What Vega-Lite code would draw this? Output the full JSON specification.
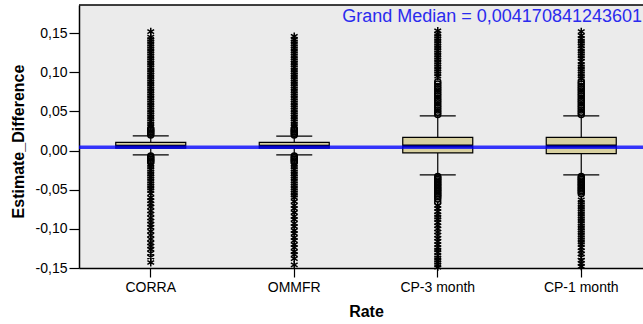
{
  "$schema": "https://vega.github.io/schema/vega-lite/v6.json",
  "autosize": {"type": "none"},
  "padding": {"left": 79, "top": 5, "right": 0, "bottom": 56},
  "width": 564,
  "height": 263,
  "background": "white",
  "config": {
    "view": {"fill": "#ebebeb", "stroke": null},
    "font": "Liberation Sans",
    "axis": {"grid": false, "domainColor": "black", "tickColor": "black", "labelColor": "black", "titleColor": "black", "labelFont": "Liberation Sans", "titleFont": "Liberation Sans", "labelFontSize": 14, "titleFontSize": 16, "titleFontWeight": "bold", "domainWidth": 1.5, "tickWidth": 1.2}
  },
  "datasets": {
    "boxes": [
      {"Rate": "CORRA", "lo": -0.0055, "q1": 0.003, "median": 0.0055, "q3": 0.0105, "hi": 0.0188},
      {"Rate": "OMMFR", "lo": -0.0055, "q1": 0.003, "median": 0.0055, "q3": 0.0105, "hi": 0.0185},
      {"Rate": "CP-3 month", "lo": -0.031, "q1": -0.003, "median": 0.006, "q3": 0.017, "hi": 0.0443},
      {"Rate": "CP-1 month", "lo": -0.031, "q1": -0.004, "median": 0.006, "q3": 0.017, "hi": 0.0443}
    ],
    "annot": [
      {"grand_median": 0.00417, "label": "Grand Median = 0,004170841243601", "top": 0.186, "Rate": "CP-1 month"}
    ],
    "points": [
      {"Rate": "CORRA", "Estimate_Difference": 0.020, "type": "outlier"},
      {"Rate": "CORRA", "Estimate_Difference": 0.022, "type": "outlier"},
      {"Rate": "CORRA", "Estimate_Difference": 0.024, "type": "outlier"},
      {"Rate": "CORRA", "Estimate_Difference": 0.026, "type": "outlier"},
      {"Rate": "CORRA", "Estimate_Difference": 0.028, "type": "outlier"},
      {"Rate": "CORRA", "Estimate_Difference": 0.031, "type": "extreme"},
      {"Rate": "CORRA", "Estimate_Difference": 0.034, "type": "extreme"},
      {"Rate": "CORRA", "Estimate_Difference": 0.037, "type": "extreme"},
      {"Rate": "CORRA", "Estimate_Difference": 0.040, "type": "extreme"},
      {"Rate": "CORRA", "Estimate_Difference": 0.043, "type": "extreme"},
      {"Rate": "CORRA", "Estimate_Difference": 0.046, "type": "extreme"},
      {"Rate": "CORRA", "Estimate_Difference": 0.049, "type": "extreme"},
      {"Rate": "CORRA", "Estimate_Difference": 0.052, "type": "extreme"},
      {"Rate": "CORRA", "Estimate_Difference": 0.055, "type": "extreme"},
      {"Rate": "CORRA", "Estimate_Difference": 0.058, "type": "extreme"},
      {"Rate": "CORRA", "Estimate_Difference": 0.061, "type": "extreme"},
      {"Rate": "CORRA", "Estimate_Difference": 0.064, "type": "extreme"},
      {"Rate": "CORRA", "Estimate_Difference": 0.067, "type": "extreme"},
      {"Rate": "CORRA", "Estimate_Difference": 0.070, "type": "extreme"},
      {"Rate": "CORRA", "Estimate_Difference": 0.073, "type": "extreme"},
      {"Rate": "CORRA", "Estimate_Difference": 0.076, "type": "extreme"},
      {"Rate": "CORRA", "Estimate_Difference": 0.079, "type": "extreme"},
      {"Rate": "CORRA", "Estimate_Difference": 0.082, "type": "extreme"},
      {"Rate": "CORRA", "Estimate_Difference": 0.085, "type": "extreme"},
      {"Rate": "CORRA", "Estimate_Difference": 0.088, "type": "extreme"},
      {"Rate": "CORRA", "Estimate_Difference": 0.091, "type": "extreme"},
      {"Rate": "CORRA", "Estimate_Difference": 0.094, "type": "extreme"},
      {"Rate": "CORRA", "Estimate_Difference": 0.097, "type": "extreme"},
      {"Rate": "CORRA", "Estimate_Difference": 0.100, "type": "extreme"},
      {"Rate": "CORRA", "Estimate_Difference": 0.103, "type": "extreme"},
      {"Rate": "CORRA", "Estimate_Difference": 0.106, "type": "extreme"},
      {"Rate": "CORRA", "Estimate_Difference": 0.109, "type": "extreme"},
      {"Rate": "CORRA", "Estimate_Difference": 0.112, "type": "extreme"},
      {"Rate": "CORRA", "Estimate_Difference": 0.115, "type": "extreme"},
      {"Rate": "CORRA", "Estimate_Difference": 0.118, "type": "extreme"},
      {"Rate": "CORRA", "Estimate_Difference": 0.121, "type": "extreme"},
      {"Rate": "CORRA", "Estimate_Difference": 0.124, "type": "extreme"},
      {"Rate": "CORRA", "Estimate_Difference": 0.127, "type": "extreme"},
      {"Rate": "CORRA", "Estimate_Difference": 0.130, "type": "extreme"},
      {"Rate": "CORRA", "Estimate_Difference": 0.133, "type": "extreme"},
      {"Rate": "CORRA", "Estimate_Difference": 0.136, "type": "extreme"},
      {"Rate": "CORRA", "Estimate_Difference": 0.139, "type": "extreme"},
      {"Rate": "CORRA", "Estimate_Difference": 0.142, "type": "extreme"},
      {"Rate": "CORRA", "Estimate_Difference": 0.145, "type": "extreme"},
      {"Rate": "CORRA", "Estimate_Difference": 0.152, "type": "extreme"},
      {"Rate": "CORRA", "Estimate_Difference": -0.007, "type": "outlier"},
      {"Rate": "CORRA", "Estimate_Difference": -0.009, "type": "outlier"},
      {"Rate": "CORRA", "Estimate_Difference": -0.011, "type": "outlier"},
      {"Rate": "CORRA", "Estimate_Difference": -0.013, "type": "outlier"},
      {"Rate": "CORRA", "Estimate_Difference": -0.015, "type": "outlier"},
      {"Rate": "CORRA", "Estimate_Difference": -0.018, "type": "extreme"},
      {"Rate": "CORRA", "Estimate_Difference": -0.021, "type": "extreme"},
      {"Rate": "CORRA", "Estimate_Difference": -0.024, "type": "extreme"},
      {"Rate": "CORRA", "Estimate_Difference": -0.027, "type": "extreme"},
      {"Rate": "CORRA", "Estimate_Difference": -0.030, "type": "extreme"},
      {"Rate": "CORRA", "Estimate_Difference": -0.033, "type": "extreme"},
      {"Rate": "CORRA", "Estimate_Difference": -0.036, "type": "extreme"},
      {"Rate": "CORRA", "Estimate_Difference": -0.039, "type": "extreme"},
      {"Rate": "CORRA", "Estimate_Difference": -0.042, "type": "extreme"},
      {"Rate": "CORRA", "Estimate_Difference": -0.045, "type": "extreme"},
      {"Rate": "CORRA", "Estimate_Difference": -0.048, "type": "extreme"},
      {"Rate": "CORRA", "Estimate_Difference": -0.051, "type": "extreme"},
      {"Rate": "CORRA", "Estimate_Difference": -0.055, "type": "extreme"},
      {"Rate": "CORRA", "Estimate_Difference": -0.060, "type": "extreme"},
      {"Rate": "CORRA", "Estimate_Difference": -0.064, "type": "extreme"},
      {"Rate": "CORRA", "Estimate_Difference": -0.068, "type": "extreme"},
      {"Rate": "CORRA", "Estimate_Difference": -0.072, "type": "extreme"},
      {"Rate": "CORRA", "Estimate_Difference": -0.077, "type": "extreme"},
      {"Rate": "CORRA", "Estimate_Difference": -0.081, "type": "extreme"},
      {"Rate": "CORRA", "Estimate_Difference": -0.086, "type": "extreme"},
      {"Rate": "CORRA", "Estimate_Difference": -0.090, "type": "extreme"},
      {"Rate": "CORRA", "Estimate_Difference": -0.094, "type": "extreme"},
      {"Rate": "CORRA", "Estimate_Difference": -0.098, "type": "extreme"},
      {"Rate": "CORRA", "Estimate_Difference": -0.103, "type": "extreme"},
      {"Rate": "CORRA", "Estimate_Difference": -0.108, "type": "extreme"},
      {"Rate": "CORRA", "Estimate_Difference": -0.113, "type": "extreme"},
      {"Rate": "CORRA", "Estimate_Difference": -0.118, "type": "extreme"},
      {"Rate": "CORRA", "Estimate_Difference": -0.122, "type": "extreme"},
      {"Rate": "CORRA", "Estimate_Difference": -0.126, "type": "extreme"},
      {"Rate": "CORRA", "Estimate_Difference": -0.131, "type": "extreme"},
      {"Rate": "CORRA", "Estimate_Difference": -0.136, "type": "extreme"},
      {"Rate": "CORRA", "Estimate_Difference": -0.143, "type": "extreme"},
      {"Rate": "OMMFR", "Estimate_Difference": 0.020, "type": "outlier"},
      {"Rate": "OMMFR", "Estimate_Difference": 0.022, "type": "outlier"},
      {"Rate": "OMMFR", "Estimate_Difference": 0.024, "type": "outlier"},
      {"Rate": "OMMFR", "Estimate_Difference": 0.026, "type": "outlier"},
      {"Rate": "OMMFR", "Estimate_Difference": 0.028, "type": "outlier"},
      {"Rate": "OMMFR", "Estimate_Difference": 0.031, "type": "extreme"},
      {"Rate": "OMMFR", "Estimate_Difference": 0.034, "type": "extreme"},
      {"Rate": "OMMFR", "Estimate_Difference": 0.037, "type": "extreme"},
      {"Rate": "OMMFR", "Estimate_Difference": 0.040, "type": "extreme"},
      {"Rate": "OMMFR", "Estimate_Difference": 0.043, "type": "extreme"},
      {"Rate": "OMMFR", "Estimate_Difference": 0.046, "type": "extreme"},
      {"Rate": "OMMFR", "Estimate_Difference": 0.049, "type": "extreme"},
      {"Rate": "OMMFR", "Estimate_Difference": 0.052, "type": "extreme"},
      {"Rate": "OMMFR", "Estimate_Difference": 0.055, "type": "extreme"},
      {"Rate": "OMMFR", "Estimate_Difference": 0.058, "type": "extreme"},
      {"Rate": "OMMFR", "Estimate_Difference": 0.061, "type": "extreme"},
      {"Rate": "OMMFR", "Estimate_Difference": 0.064, "type": "extreme"},
      {"Rate": "OMMFR", "Estimate_Difference": 0.067, "type": "extreme"},
      {"Rate": "OMMFR", "Estimate_Difference": 0.070, "type": "extreme"},
      {"Rate": "OMMFR", "Estimate_Difference": 0.073, "type": "extreme"},
      {"Rate": "OMMFR", "Estimate_Difference": 0.076, "type": "extreme"},
      {"Rate": "OMMFR", "Estimate_Difference": 0.079, "type": "extreme"},
      {"Rate": "OMMFR", "Estimate_Difference": 0.082, "type": "extreme"},
      {"Rate": "OMMFR", "Estimate_Difference": 0.085, "type": "extreme"},
      {"Rate": "OMMFR", "Estimate_Difference": 0.088, "type": "extreme"},
      {"Rate": "OMMFR", "Estimate_Difference": 0.091, "type": "extreme"},
      {"Rate": "OMMFR", "Estimate_Difference": 0.094, "type": "extreme"},
      {"Rate": "OMMFR", "Estimate_Difference": 0.097, "type": "extreme"},
      {"Rate": "OMMFR", "Estimate_Difference": 0.100, "type": "extreme"},
      {"Rate": "OMMFR", "Estimate_Difference": 0.103, "type": "extreme"},
      {"Rate": "OMMFR", "Estimate_Difference": 0.106, "type": "extreme"},
      {"Rate": "OMMFR", "Estimate_Difference": 0.109, "type": "extreme"},
      {"Rate": "OMMFR", "Estimate_Difference": 0.112, "type": "extreme"},
      {"Rate": "OMMFR", "Estimate_Difference": 0.115, "type": "extreme"},
      {"Rate": "OMMFR", "Estimate_Difference": 0.118, "type": "extreme"},
      {"Rate": "OMMFR", "Estimate_Difference": 0.121, "type": "extreme"},
      {"Rate": "OMMFR", "Estimate_Difference": 0.124, "type": "extreme"},
      {"Rate": "OMMFR", "Estimate_Difference": 0.127, "type": "extreme"},
      {"Rate": "OMMFR", "Estimate_Difference": 0.130, "type": "extreme"},
      {"Rate": "OMMFR", "Estimate_Difference": 0.133, "type": "extreme"},
      {"Rate": "OMMFR", "Estimate_Difference": 0.136, "type": "extreme"},
      {"Rate": "OMMFR", "Estimate_Difference": 0.139, "type": "extreme"},
      {"Rate": "OMMFR", "Estimate_Difference": 0.142, "type": "extreme"},
      {"Rate": "OMMFR", "Estimate_Difference": 0.146, "type": "extreme"},
      {"Rate": "OMMFR", "Estimate_Difference": -0.007, "type": "outlier"},
      {"Rate": "OMMFR", "Estimate_Difference": -0.009, "type": "outlier"},
      {"Rate": "OMMFR", "Estimate_Difference": -0.011, "type": "outlier"},
      {"Rate": "OMMFR", "Estimate_Difference": -0.013, "type": "outlier"},
      {"Rate": "OMMFR", "Estimate_Difference": -0.015, "type": "outlier"},
      {"Rate": "OMMFR", "Estimate_Difference": -0.018, "type": "extreme"},
      {"Rate": "OMMFR", "Estimate_Difference": -0.021, "type": "extreme"},
      {"Rate": "OMMFR", "Estimate_Difference": -0.024, "type": "extreme"},
      {"Rate": "OMMFR", "Estimate_Difference": -0.027, "type": "extreme"},
      {"Rate": "OMMFR", "Estimate_Difference": -0.030, "type": "extreme"},
      {"Rate": "OMMFR", "Estimate_Difference": -0.033, "type": "extreme"},
      {"Rate": "OMMFR", "Estimate_Difference": -0.036, "type": "extreme"},
      {"Rate": "OMMFR", "Estimate_Difference": -0.039, "type": "extreme"},
      {"Rate": "OMMFR", "Estimate_Difference": -0.042, "type": "extreme"},
      {"Rate": "OMMFR", "Estimate_Difference": -0.045, "type": "extreme"},
      {"Rate": "OMMFR", "Estimate_Difference": -0.048, "type": "extreme"},
      {"Rate": "OMMFR", "Estimate_Difference": -0.051, "type": "extreme"},
      {"Rate": "OMMFR", "Estimate_Difference": -0.054, "type": "extreme"},
      {"Rate": "OMMFR", "Estimate_Difference": -0.057, "type": "extreme"},
      {"Rate": "OMMFR", "Estimate_Difference": -0.060, "type": "extreme"},
      {"Rate": "OMMFR", "Estimate_Difference": -0.065, "type": "extreme"},
      {"Rate": "OMMFR", "Estimate_Difference": -0.070, "type": "extreme"},
      {"Rate": "OMMFR", "Estimate_Difference": -0.074, "type": "extreme"},
      {"Rate": "OMMFR", "Estimate_Difference": -0.079, "type": "extreme"},
      {"Rate": "OMMFR", "Estimate_Difference": -0.084, "type": "extreme"},
      {"Rate": "OMMFR", "Estimate_Difference": -0.088, "type": "extreme"},
      {"Rate": "OMMFR", "Estimate_Difference": -0.093, "type": "extreme"},
      {"Rate": "OMMFR", "Estimate_Difference": -0.097, "type": "extreme"},
      {"Rate": "OMMFR", "Estimate_Difference": -0.102, "type": "extreme"},
      {"Rate": "OMMFR", "Estimate_Difference": -0.106, "type": "extreme"},
      {"Rate": "OMMFR", "Estimate_Difference": -0.111, "type": "extreme"},
      {"Rate": "OMMFR", "Estimate_Difference": -0.115, "type": "extreme"},
      {"Rate": "OMMFR", "Estimate_Difference": -0.120, "type": "extreme"},
      {"Rate": "OMMFR", "Estimate_Difference": -0.124, "type": "extreme"},
      {"Rate": "OMMFR", "Estimate_Difference": -0.129, "type": "extreme"},
      {"Rate": "OMMFR", "Estimate_Difference": -0.133, "type": "extreme"},
      {"Rate": "OMMFR", "Estimate_Difference": -0.138, "type": "extreme"},
      {"Rate": "OMMFR", "Estimate_Difference": -0.146, "type": "extreme"},
      {"Rate": "CP-3 month", "Estimate_Difference": 0.046, "type": "outlier"},
      {"Rate": "CP-3 month", "Estimate_Difference": 0.049, "type": "outlier"},
      {"Rate": "CP-3 month", "Estimate_Difference": 0.052, "type": "outlier"},
      {"Rate": "CP-3 month", "Estimate_Difference": 0.055, "type": "outlier"},
      {"Rate": "CP-3 month", "Estimate_Difference": 0.058, "type": "outlier"},
      {"Rate": "CP-3 month", "Estimate_Difference": 0.061, "type": "outlier"},
      {"Rate": "CP-3 month", "Estimate_Difference": 0.064, "type": "outlier"},
      {"Rate": "CP-3 month", "Estimate_Difference": 0.067, "type": "outlier"},
      {"Rate": "CP-3 month", "Estimate_Difference": 0.070, "type": "outlier"},
      {"Rate": "CP-3 month", "Estimate_Difference": 0.073, "type": "outlier"},
      {"Rate": "CP-3 month", "Estimate_Difference": 0.076, "type": "outlier"},
      {"Rate": "CP-3 month", "Estimate_Difference": 0.079, "type": "outlier"},
      {"Rate": "CP-3 month", "Estimate_Difference": 0.082, "type": "outlier"},
      {"Rate": "CP-3 month", "Estimate_Difference": 0.085, "type": "outlier"},
      {"Rate": "CP-3 month", "Estimate_Difference": 0.088, "type": "outlier"},
      {"Rate": "CP-3 month", "Estimate_Difference": 0.095, "type": "extreme"},
      {"Rate": "CP-3 month", "Estimate_Difference": 0.098, "type": "extreme"},
      {"Rate": "CP-3 month", "Estimate_Difference": 0.101, "type": "extreme"},
      {"Rate": "CP-3 month", "Estimate_Difference": 0.104, "type": "extreme"},
      {"Rate": "CP-3 month", "Estimate_Difference": 0.107, "type": "extreme"},
      {"Rate": "CP-3 month", "Estimate_Difference": 0.110, "type": "extreme"},
      {"Rate": "CP-3 month", "Estimate_Difference": 0.113, "type": "extreme"},
      {"Rate": "CP-3 month", "Estimate_Difference": 0.116, "type": "extreme"},
      {"Rate": "CP-3 month", "Estimate_Difference": 0.119, "type": "extreme"},
      {"Rate": "CP-3 month", "Estimate_Difference": 0.122, "type": "extreme"},
      {"Rate": "CP-3 month", "Estimate_Difference": 0.125, "type": "extreme"},
      {"Rate": "CP-3 month", "Estimate_Difference": 0.128, "type": "extreme"},
      {"Rate": "CP-3 month", "Estimate_Difference": 0.131, "type": "extreme"},
      {"Rate": "CP-3 month", "Estimate_Difference": 0.134, "type": "extreme"},
      {"Rate": "CP-3 month", "Estimate_Difference": 0.137, "type": "extreme"},
      {"Rate": "CP-3 month", "Estimate_Difference": 0.140, "type": "extreme"},
      {"Rate": "CP-3 month", "Estimate_Difference": 0.143, "type": "extreme"},
      {"Rate": "CP-3 month", "Estimate_Difference": 0.146, "type": "extreme"},
      {"Rate": "CP-3 month", "Estimate_Difference": 0.149, "type": "extreme"},
      {"Rate": "CP-3 month", "Estimate_Difference": 0.153, "type": "extreme"},
      {"Rate": "CP-3 month", "Estimate_Difference": -0.033, "type": "outlier"},
      {"Rate": "CP-3 month", "Estimate_Difference": -0.035, "type": "outlier"},
      {"Rate": "CP-3 month", "Estimate_Difference": -0.037, "type": "outlier"},
      {"Rate": "CP-3 month", "Estimate_Difference": -0.039, "type": "outlier"},
      {"Rate": "CP-3 month", "Estimate_Difference": -0.041, "type": "outlier"},
      {"Rate": "CP-3 month", "Estimate_Difference": -0.043, "type": "outlier"},
      {"Rate": "CP-3 month", "Estimate_Difference": -0.045, "type": "outlier"},
      {"Rate": "CP-3 month", "Estimate_Difference": -0.047, "type": "outlier"},
      {"Rate": "CP-3 month", "Estimate_Difference": -0.049, "type": "outlier"},
      {"Rate": "CP-3 month", "Estimate_Difference": -0.051, "type": "outlier"},
      {"Rate": "CP-3 month", "Estimate_Difference": -0.053, "type": "outlier"},
      {"Rate": "CP-3 month", "Estimate_Difference": -0.055, "type": "outlier"},
      {"Rate": "CP-3 month", "Estimate_Difference": -0.057, "type": "outlier"},
      {"Rate": "CP-3 month", "Estimate_Difference": -0.059, "type": "outlier"},
      {"Rate": "CP-3 month", "Estimate_Difference": -0.062, "type": "outlier"},
      {"Rate": "CP-3 month", "Estimate_Difference": -0.066, "type": "outlier"},
      {"Rate": "CP-3 month", "Estimate_Difference": -0.070, "type": "extreme"},
      {"Rate": "CP-3 month", "Estimate_Difference": -0.074, "type": "extreme"},
      {"Rate": "CP-3 month", "Estimate_Difference": -0.078, "type": "extreme"},
      {"Rate": "CP-3 month", "Estimate_Difference": -0.082, "type": "extreme"},
      {"Rate": "CP-3 month", "Estimate_Difference": -0.085, "type": "extreme"},
      {"Rate": "CP-3 month", "Estimate_Difference": -0.088, "type": "extreme"},
      {"Rate": "CP-3 month", "Estimate_Difference": -0.092, "type": "extreme"},
      {"Rate": "CP-3 month", "Estimate_Difference": -0.096, "type": "extreme"},
      {"Rate": "CP-3 month", "Estimate_Difference": -0.100, "type": "extreme"},
      {"Rate": "CP-3 month", "Estimate_Difference": -0.104, "type": "extreme"},
      {"Rate": "CP-3 month", "Estimate_Difference": -0.108, "type": "extreme"},
      {"Rate": "CP-3 month", "Estimate_Difference": -0.112, "type": "extreme"},
      {"Rate": "CP-3 month", "Estimate_Difference": -0.116, "type": "extreme"},
      {"Rate": "CP-3 month", "Estimate_Difference": -0.120, "type": "extreme"},
      {"Rate": "CP-3 month", "Estimate_Difference": -0.124, "type": "extreme"},
      {"Rate": "CP-3 month", "Estimate_Difference": -0.127, "type": "extreme"},
      {"Rate": "CP-3 month", "Estimate_Difference": -0.130, "type": "extreme"},
      {"Rate": "CP-3 month", "Estimate_Difference": -0.134, "type": "extreme"},
      {"Rate": "CP-3 month", "Estimate_Difference": -0.137, "type": "extreme"},
      {"Rate": "CP-3 month", "Estimate_Difference": -0.140, "type": "extreme"},
      {"Rate": "CP-3 month", "Estimate_Difference": -0.143, "type": "extreme"},
      {"Rate": "CP-3 month", "Estimate_Difference": -0.146, "type": "extreme"},
      {"Rate": "CP-3 month", "Estimate_Difference": -0.149, "type": "extreme"},
      {"Rate": "CP-1 month", "Estimate_Difference": 0.046, "type": "outlier"},
      {"Rate": "CP-1 month", "Estimate_Difference": 0.049, "type": "outlier"},
      {"Rate": "CP-1 month", "Estimate_Difference": 0.052, "type": "outlier"},
      {"Rate": "CP-1 month", "Estimate_Difference": 0.055, "type": "outlier"},
      {"Rate": "CP-1 month", "Estimate_Difference": 0.058, "type": "outlier"},
      {"Rate": "CP-1 month", "Estimate_Difference": 0.061, "type": "outlier"},
      {"Rate": "CP-1 month", "Estimate_Difference": 0.064, "type": "outlier"},
      {"Rate": "CP-1 month", "Estimate_Difference": 0.067, "type": "outlier"},
      {"Rate": "CP-1 month", "Estimate_Difference": 0.070, "type": "outlier"},
      {"Rate": "CP-1 month", "Estimate_Difference": 0.073, "type": "outlier"},
      {"Rate": "CP-1 month", "Estimate_Difference": 0.076, "type": "outlier"},
      {"Rate": "CP-1 month", "Estimate_Difference": 0.079, "type": "outlier"},
      {"Rate": "CP-1 month", "Estimate_Difference": 0.082, "type": "outlier"},
      {"Rate": "CP-1 month", "Estimate_Difference": 0.085, "type": "outlier"},
      {"Rate": "CP-1 month", "Estimate_Difference": 0.088, "type": "outlier"},
      {"Rate": "CP-1 month", "Estimate_Difference": 0.092, "type": "extreme"},
      {"Rate": "CP-1 month", "Estimate_Difference": 0.095, "type": "extreme"},
      {"Rate": "CP-1 month", "Estimate_Difference": 0.098, "type": "extreme"},
      {"Rate": "CP-1 month", "Estimate_Difference": 0.101, "type": "extreme"},
      {"Rate": "CP-1 month", "Estimate_Difference": 0.104, "type": "extreme"},
      {"Rate": "CP-1 month", "Estimate_Difference": 0.107, "type": "extreme"},
      {"Rate": "CP-1 month", "Estimate_Difference": 0.110, "type": "extreme"},
      {"Rate": "CP-1 month", "Estimate_Difference": 0.114, "type": "extreme"},
      {"Rate": "CP-1 month", "Estimate_Difference": 0.118, "type": "extreme"},
      {"Rate": "CP-1 month", "Estimate_Difference": 0.121, "type": "extreme"},
      {"Rate": "CP-1 month", "Estimate_Difference": 0.124, "type": "extreme"},
      {"Rate": "CP-1 month", "Estimate_Difference": 0.127, "type": "extreme"},
      {"Rate": "CP-1 month", "Estimate_Difference": 0.130, "type": "extreme"},
      {"Rate": "CP-1 month", "Estimate_Difference": 0.134, "type": "extreme"},
      {"Rate": "CP-1 month", "Estimate_Difference": 0.137, "type": "extreme"},
      {"Rate": "CP-1 month", "Estimate_Difference": 0.140, "type": "extreme"},
      {"Rate": "CP-1 month", "Estimate_Difference": 0.143, "type": "extreme"},
      {"Rate": "CP-1 month", "Estimate_Difference": 0.147, "type": "extreme"},
      {"Rate": "CP-1 month", "Estimate_Difference": 0.152, "type": "extreme"},
      {"Rate": "CP-1 month", "Estimate_Difference": -0.033, "type": "outlier"},
      {"Rate": "CP-1 month", "Estimate_Difference": -0.035, "type": "outlier"},
      {"Rate": "CP-1 month", "Estimate_Difference": -0.037, "type": "outlier"},
      {"Rate": "CP-1 month", "Estimate_Difference": -0.039, "type": "outlier"},
      {"Rate": "CP-1 month", "Estimate_Difference": -0.041, "type": "outlier"},
      {"Rate": "CP-1 month", "Estimate_Difference": -0.043, "type": "outlier"},
      {"Rate": "CP-1 month", "Estimate_Difference": -0.045, "type": "outlier"},
      {"Rate": "CP-1 month", "Estimate_Difference": -0.047, "type": "outlier"},
      {"Rate": "CP-1 month", "Estimate_Difference": -0.049, "type": "outlier"},
      {"Rate": "CP-1 month", "Estimate_Difference": -0.051, "type": "outlier"},
      {"Rate": "CP-1 month", "Estimate_Difference": -0.053, "type": "outlier"},
      {"Rate": "CP-1 month", "Estimate_Difference": -0.055, "type": "outlier"},
      {"Rate": "CP-1 month", "Estimate_Difference": -0.063, "type": "extreme"},
      {"Rate": "CP-1 month", "Estimate_Difference": -0.066, "type": "extreme"},
      {"Rate": "CP-1 month", "Estimate_Difference": -0.069, "type": "extreme"},
      {"Rate": "CP-1 month", "Estimate_Difference": -0.072, "type": "extreme"},
      {"Rate": "CP-1 month", "Estimate_Difference": -0.075, "type": "extreme"},
      {"Rate": "CP-1 month", "Estimate_Difference": -0.078, "type": "extreme"},
      {"Rate": "CP-1 month", "Estimate_Difference": -0.081, "type": "extreme"},
      {"Rate": "CP-1 month", "Estimate_Difference": -0.084, "type": "extreme"},
      {"Rate": "CP-1 month", "Estimate_Difference": -0.087, "type": "extreme"},
      {"Rate": "CP-1 month", "Estimate_Difference": -0.090, "type": "extreme"},
      {"Rate": "CP-1 month", "Estimate_Difference": -0.093, "type": "extreme"},
      {"Rate": "CP-1 month", "Estimate_Difference": -0.096, "type": "extreme"},
      {"Rate": "CP-1 month", "Estimate_Difference": -0.099, "type": "extreme"},
      {"Rate": "CP-1 month", "Estimate_Difference": -0.102, "type": "extreme"},
      {"Rate": "CP-1 month", "Estimate_Difference": -0.105, "type": "extreme"},
      {"Rate": "CP-1 month", "Estimate_Difference": -0.108, "type": "extreme"},
      {"Rate": "CP-1 month", "Estimate_Difference": -0.111, "type": "extreme"},
      {"Rate": "CP-1 month", "Estimate_Difference": -0.114, "type": "extreme"},
      {"Rate": "CP-1 month", "Estimate_Difference": -0.117, "type": "extreme"},
      {"Rate": "CP-1 month", "Estimate_Difference": -0.120, "type": "extreme"},
      {"Rate": "CP-1 month", "Estimate_Difference": -0.124, "type": "extreme"},
      {"Rate": "CP-1 month", "Estimate_Difference": -0.128, "type": "extreme"},
      {"Rate": "CP-1 month", "Estimate_Difference": -0.132, "type": "extreme"},
      {"Rate": "CP-1 month", "Estimate_Difference": -0.136, "type": "extreme"},
      {"Rate": "CP-1 month", "Estimate_Difference": -0.140, "type": "extreme"},
      {"Rate": "CP-1 month", "Estimate_Difference": -0.144, "type": "extreme"},
      {"Rate": "CP-1 month", "Estimate_Difference": -0.148, "type": "extreme"}
    ]
  },
  "encoding": {
    "x": {
      "field": "Rate", "type": "nominal",
      "sort": ["CORRA", "OMMFR", "CP-3 month", "CP-1 month"],
      "scale": {"domain": ["CORRA", "OMMFR", "CP-3 month", "CP-1 month"], "range": [0, 574], "paddingInner": 0, "paddingOuter": 0},
      "axis": {"title": "Rate", "labelAngle": 0, "tickSize": 9, "labelPadding": 3, "titleX": 287, "titleY": 43, "titleBaseline": "middle", "titleAlign": "center"}
    }
  },
  "layer": [
    {
      "data": {"name": "boxes"},
      "mark": {"type": "rule", "stroke": "black", "strokeWidth": 1.2},
      "encoding": {
        "y": {"field": "lo", "type": "quantitative", "scale": {"domain": [-0.15, 0.186], "nice": false, "zero": false},
          "axis": {"title": "Estimate_Difference", "values": [-0.15, -0.1, -0.05, 0, 0.05, 0.1, 0.15], "tickSize": 10, "labelPadding": 2,
            "labelExpr": "replace(replace(format(datum.value, '.2f'), '.', ','), '\u2212', '-')",
            "titleX": -61, "titleY": 136, "titleAngle": -90, "titleBaseline": "middle", "titleAlign": "center"}},
        "y2": {"field": "hi"}
      }
    },
    {
      "data": {"name": "boxes"},
      "mark": {"type": "bar", "size": 70, "fill": "#d8d0a0", "stroke": "black", "strokeWidth": 1.2},
      "encoding": {
        "y": {"field": "q1", "type": "quantitative"},
        "y2": {"field": "q3"}
      }
    },
    {
      "data": {"name": "boxes"},
      "mark": {"type": "tick", "size": 70, "thickness": 3, "color": "black", "opacity": 1},
      "encoding": {"y": {"field": "median", "type": "quantitative"}}
    },
    {
      "data": {"name": "boxes"},
      "mark": {"type": "tick", "size": 36, "thickness": 1.3, "color": "black", "opacity": 1},
      "encoding": {"y": {"field": "lo", "type": "quantitative"}}
    },
    {
      "data": {"name": "boxes"},
      "mark": {"type": "tick", "size": 36, "thickness": 1.3, "color": "black", "opacity": 1},
      "encoding": {"y": {"field": "hi", "type": "quantitative"}}
    },
    {
      "data": {"name": "points"},
      "mark": {"type": "point", "filled": false, "stroke": "black", "strokeWidth": 1.5, "opacity": 1},
      "encoding": {
        "y": {"field": "Estimate_Difference", "type": "quantitative"},
        "shape": {"field": "type", "type": "nominal",
          "scale": {"domain": ["outlier", "extreme"], "range": ["circle", "M0,-1L0,1M-0.87,-0.5L0.87,0.5M-0.87,0.5L0.87,-0.5"]},
          "legend": null},
        "size": {"field": "type", "type": "nominal", "scale": {"domain": ["outlier", "extreme"], "range": [36, 60]}, "legend": null}
      }
    },
    {
      "data": {"name": "annot"},
      "mark": {"type": "rule", "stroke": "#0000ff", "strokeWidth": 3.5, "opacity": 0.78},
      "encoding": {"x": null, "y": {"field": "grand_median", "type": "quantitative"}}
    },
    {
      "data": {"name": "annot"},
      "mark": {"type": "rule", "stroke": "black", "strokeWidth": 1.5},
      "encoding": {"x": null, "y": {"field": "top", "type": "quantitative"}}
    },
    {
      "data": {"name": "annot"},
      "mark": {"type": "text", "align": "right", "baseline": "middle", "dx": -11, "dy": 12, "fontSize": 18, "font": "Liberation Sans", "color": "#2a2aee"},
      "encoding": {"x": {"field": "Rate", "type": "nominal", "bandPosition": 1}, "y": {"field": "top", "type": "quantitative"}, "text": {"field": "label"}}
    }
  ]
}
